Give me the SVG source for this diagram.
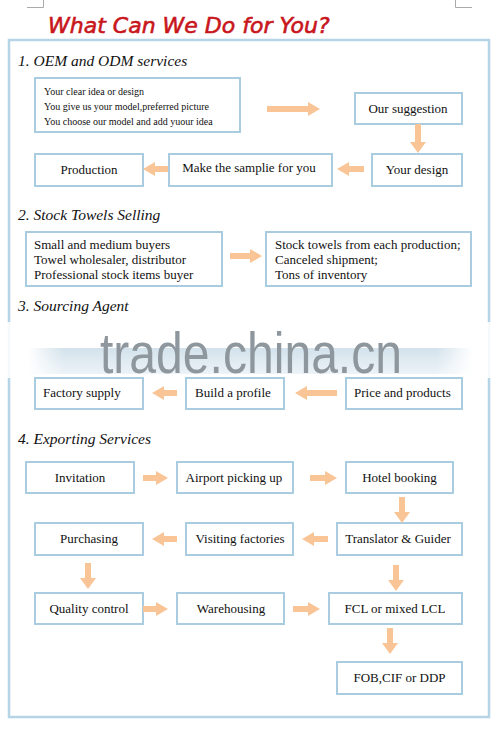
<svg xmlns="http://www.w3.org/2000/svg" width="498" height="732" viewBox="0 0 498 732">
<defs>
<style>
.box{fill:#fff;stroke:#a9cce0;stroke-width:2}
.arr{fill:#f9c596;stroke:none}
.t{font-family:"Liberation Serif","Times New Roman",serif;font-size:13px;fill:#111}
.c{text-anchor:middle}
.s{font-size:10px}
.h{font-family:"Liberation Serif","Times New Roman",serif;font-style:italic;font-size:15.5px;fill:#111}
.mark{stroke:#aaa;stroke-width:1;fill:none}
</style>
<linearGradient id="band" x1="0" y1="0" x2="1" y2="0">
<stop offset="0" stop-color="#d3e2ec" stop-opacity="0"/>
<stop offset="0.08" stop-color="#d3e2ec" stop-opacity="1"/>
<stop offset="0.92" stop-color="#d3e2ec" stop-opacity="1"/>
<stop offset="1" stop-color="#d3e2ec" stop-opacity="0"/>
</linearGradient>
<linearGradient id="bandv" x1="0" y1="0" x2="0" y2="1">
<stop offset="0" stop-color="#fff" stop-opacity="0"/>
<stop offset="1" stop-color="#fff" stop-opacity="0.6"/>
</linearGradient>
</defs>
<rect width="498" height="732" fill="#fff"/>
<g id="cornermarks">
<path class="mark" d="M27 7.5H43.5V0M472 7.5H455.5V0"/>
</g>
<text id="title" x="48" y="33" font-family="'DejaVu Sans',Verdana,sans-serif" font-style="italic" font-size="22" fill="#c8161c" stroke="#c8161c" stroke-width="0.6">What Can We Do for You?</text>
<rect id="frame" x="9" y="40" width="480" height="677" fill="none" stroke="#b5d4e6" stroke-width="2.5"/>

<text class="h" x="18" y="66">1. OEM and ODM services</text>
<text class="h" x="18" y="220">2. Stock Towels Selling</text>
<text class="h" x="18" y="311">3. Sourcing Agent</text>
<text class="h" x="18" y="444">4. Exporting Services</text>

<g id="watermark">
<rect x="0" y="322" width="498" height="56" fill="#fff" opacity="0.85"/>
<rect x="28" y="348" width="444" height="26" fill="url(#band)"/>
<rect x="28" y="348" width="444" height="26" fill="url(#bandv)"/>
<text x="100" y="373" font-family="'Liberation Sans',Arial,sans-serif" font-size="58" fill="#8e979d" textLength="302" lengthAdjust="spacingAndGlyphs">trade.china.cn</text>
</g>

<g id="n-ideas"><rect class="box" x="35" y="78" width="205" height="54"/>
<text class="t s" x="44" y="95">Your clear idea or design</text>
<text class="t s" x="44" y="110">You give us your model,preferred picture</text>
<text class="t s" x="44" y="125">You choose our model and add yuour idea</text></g>
<g id="n-suggestion"><rect class="box" x="355" y="93" width="107" height="31"/><text class="t c" x="408" y="113">Our suggestion</text></g>
<g id="n-yourdesign"><rect class="box" x="372" y="154" width="90" height="32"/><text class="t c" x="417" y="174">Your design</text></g>
<g id="n-sample"><rect class="box" x="169" y="154" width="163" height="32"/><text class="t c" x="249" y="172">Make the samplie for you</text></g>
<g id="n-production"><rect class="box" x="35" y="154" width="108" height="32"/><text class="t c" x="89" y="174">Production</text></g>

<g id="n-buyers"><rect class="box" x="26" y="232" width="196" height="54"/>
<text class="t" x="34" y="249">Small and medium buyers</text>
<text class="t" x="34" y="264">Towel wholesaler, distributor</text>
<text class="t" x="34" y="279">Professional stock items buyer</text></g>
<g id="n-stock"><rect class="box" x="266" y="232" width="205" height="54"/>
<text class="t" x="275" y="249">Stock towels from each production;</text>
<text class="t" x="275" y="264">Canceled shipment;</text>
<text class="t" x="275" y="279">Tons of inventory</text></g>

<g id="n-factory"><rect class="box" x="35" y="378" width="108" height="31"/><text class="t" x="43" y="397">Factory supply</text></g>
<g id="n-profile"><rect class="box" x="186" y="378" width="98" height="31"/><text class="t" x="195" y="397">Build a profile</text></g>
<g id="n-price"><rect class="box" x="346" y="378" width="116" height="31"/><text class="t" x="354" y="397">Price and products</text></g>

<g id="n-invitation"><rect class="box" x="26" y="462" width="108" height="31"/><text class="t c" x="80" y="482">Invitation</text></g>
<g id="n-airport"><rect class="box" x="177" y="462" width="116" height="31"/><text class="t c" x="234" y="482">Airport picking up</text></g>
<g id="n-hotel"><rect class="box" x="346" y="462" width="107" height="31"/><text class="t c" x="399.5" y="482">Hotel booking</text></g>
<g id="n-translator"><rect class="box" x="337" y="523" width="125" height="32"/><text class="t c" x="398" y="543">Translator &amp; Guider</text></g>
<g id="n-visiting"><rect class="box" x="186" y="523" width="107" height="32"/><text class="t c" x="240" y="543">Visiting factories</text></g>
<g id="n-purchasing"><rect class="box" x="35" y="523" width="108" height="32"/><text class="t c" x="89" y="543">Purchasing</text></g>
<g id="n-quality"><rect class="box" x="35" y="593" width="108" height="31"/><text class="t c" x="89" y="613">Quality control</text></g>
<g id="n-warehousing"><rect class="box" x="177" y="593" width="107" height="31"/><text class="t c" x="231" y="613">Warehousing</text></g>
<g id="n-fcl"><rect class="box" x="329" y="593" width="133" height="31"/><text class="t c" x="395" y="613">FCL or mixed LCL</text></g>
<g id="n-fob"><rect class="box" x="337" y="662" width="125" height="32"/><text class="t c" x="399.5" y="682">FOB,CIF or DDP</text></g>

<g id="connectors">
<polygon class="arr" points="267,106 308,106 308,102 320,109 308,116 308,112 267,112"/>
<polygon class="arr" points="415,124 421,124 421,142 426,142 418,153 410,142 415,142"/>
<polygon class="arr" points="364,166 349,166 349,162 337,169 349,176 349,172 364,172"/>
<polygon class="arr" points="168,166 155,166 155,162 143,169 155,176 155,172 168,172"/>
<polygon class="arr" points="230,253 250,253 250,249 262,256 250,263 250,259 230,259"/>
<polygon class="arr" points="177,390 164,390 164,386 152,393 164,400 164,396 177,396"/>
<polygon class="arr" points="337,390 307,390 307,386 295,393 307,400 307,396 337,396"/>
<polygon class="arr" points="143,475 156,475 156,471 168,478 156,485 156,481 143,481"/>
<polygon class="arr" points="310,475 325,475 325,471 337,478 325,485 325,481 310,481"/>
<polygon class="arr" points="399,497 405,497 405,512 410,512 402,523 394,512 399,512"/>
<polygon class="arr" points="328,536 314,536 314,532 302,539 314,546 314,542 328,542"/>
<polygon class="arr" points="177,536 164,536 164,532 152,539 164,546 164,542 177,542"/>
<polygon class="arr" points="85,563 91,563 91,578 96,578 88,589 80,578 85,578"/>
<polygon class="arr" points="393,565 399,565 399,580 404,580 396,591 388,580 393,580"/>
<polygon class="arr" points="143,606 156,606 156,602 168,609 156,616 156,612 143,612"/>
<polygon class="arr" points="293,606 308,606 308,602 320,609 308,616 308,612 293,612"/>
<polygon class="arr" points="387,628 393,628 393,643 398,643 390,654 382,643 387,643"/>
</g>
</svg>
